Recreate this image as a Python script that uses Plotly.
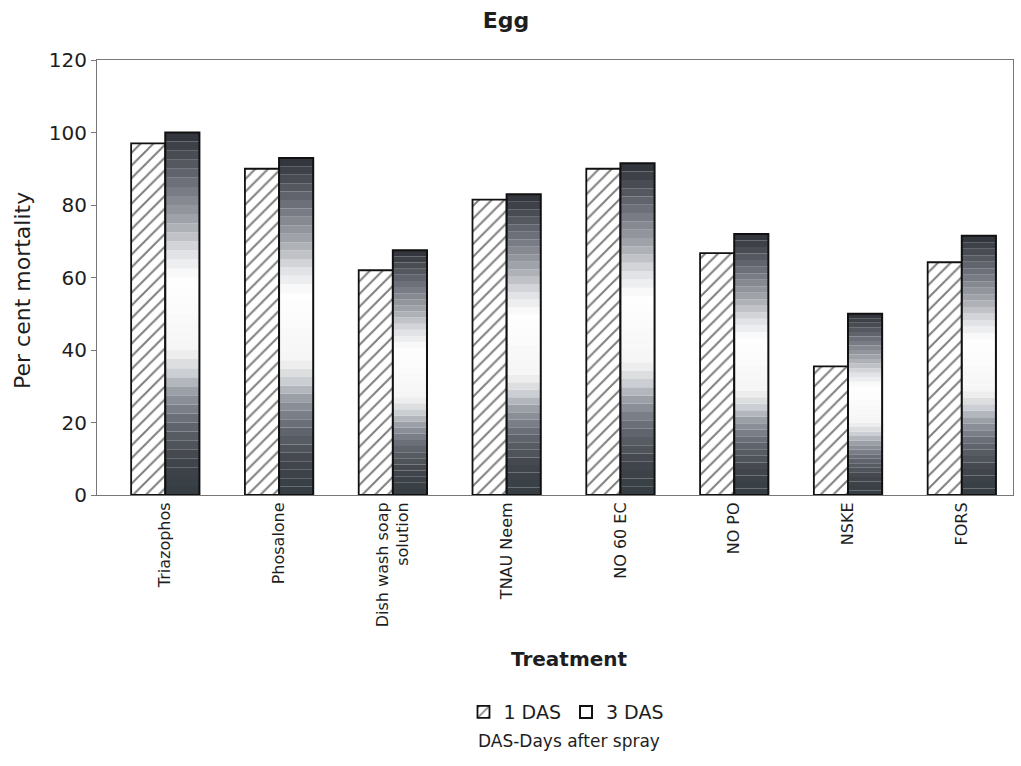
import plotly.graph_objects as go

categories = ["Triazophos", "Phosalone", "Dish wash soap<br>solution", "TNAU Neem",
              "NO 60 EC", "NO PO", "NSKE", "FORS"]
das1 = [97, 90, 62, 81.5, 90, 66.7, 35.5, 64.2]
das3 = [100, 93, 67.5, 83, 91.5, 72, 50, 71.5]

FONT = "DejaVu Sans, Liberation Sans, Arial, sans-serif"
TXT = "#1e1e1e"

# gradient profile for the 3 DAS bars (fraction from bottom -> colour)
stops = [(0.0, (52, 60, 66)), (0.1, (66, 70, 76)), (0.2, (100, 104, 112)),
         (0.28, (148, 152, 160)), (0.34, (205, 208, 212)), (0.4, (245, 245, 245)),
         (0.6, (255, 255, 255)), (0.67, (222, 224, 227)), (0.75, (165, 168, 174)),
         (0.85, (115, 118, 126)), (0.94, (72, 75, 82)), (1.0, (45, 48, 54))]


def grad(t):
    for (t0, c0), (t1, c1) in zip(stops[:-1], stops[1:]):
        if t0 <= t <= t1:
            f = (t - t0) / (t1 - t0) if t1 > t0 else 0
            return "rgb(%d,%d,%d)" % tuple(round(a + (b - a) * f) for a, b in zip(c0, c1))
    return "rgb(45,48,54)"


fig = go.Figure()

fig.add_trace(go.Bar(
    x=categories, y=das1, name="1 DAS", offsetgroup="a",
    marker=dict(color="white", line=dict(color="#111", width=1.8),
                pattern=dict(shape="/", fgcolor="#000", bgcolor="white", size=9, solidity=0.22)),
))

N = 40
for k in range(N):
    fig.add_trace(go.Bar(
        x=categories, y=[v / N for v in das3], base=[v * k / N for v in das3],
        offsetgroup="b", showlegend=False, hoverinfo="skip",
        marker=dict(color=grad((k + 0.5) / N), line=dict(width=0)),
    ))

fig.add_trace(go.Bar(
    x=categories, y=das3, name="3 DAS", offsetgroup="b",
    marker=dict(color="rgba(0,0,0,0)", line=dict(color="#111", width=2)),
))

fig.update_layout(
    width=1021, height=766,
    margin=dict(l=97, r=8, t=60, b=271),
    paper_bgcolor="white", plot_bgcolor="white",
    barmode="group", bargap=0.4, bargroupgap=0,
    font=dict(family=FONT, color=TXT),
    title=dict(text="<b>Egg</b>", x=506 / 1021, xanchor="center", y=1 - 20 / 766, yanchor="middle",
               font=dict(size=22, family=FONT, color=TXT)),
    legend=dict(orientation="h", x=0.512, xanchor="center", y=-0.499, yanchor="middle",
                font=dict(size=19, family=FONT, color=TXT), traceorder="normal",
                itemwidth=30),
    showlegend=True,
)

fig.update_xaxes(
    range=[-0.6, 7.45],
    tickangle=-90, tickfont=dict(size=16, family=FONT, color=TXT),
    showline=True, linecolor="#777", linewidth=1, mirror=True,
    ticks="", showgrid=False,
)
fig.update_yaxes(
    range=[0, 120], dtick=20, tickfont=dict(size=20, family=FONT, color=TXT),
    showline=True, linecolor="#777", linewidth=1, mirror=True,
    ticks="outside", ticklen=5, tickcolor="#777", showgrid=False, zeroline=False,
)

fig.add_annotation(text="<b>Treatment</b>", x=0.516, xref="paper", y=-0.376, yref="paper",
                   showarrow=False, yanchor="middle", xanchor="center",
                   font=dict(size=20, family=FONT, color=TXT))
fig.add_annotation(text="Per cent mortality", x=-0.082, xref="paper", y=0.471, yref="paper",
                   textangle=-90, showarrow=False, xanchor="center", yanchor="middle",
                   font=dict(size=22, family=FONT, color=TXT))
fig.add_annotation(text="DAS-Days after spray", x=0.515, xref="paper", y=-0.566, yref="paper",
                   showarrow=False, yanchor="middle", xanchor="center",
                   font=dict(size=17, family=FONT, color=TXT))

fig.write_html("out.html")
